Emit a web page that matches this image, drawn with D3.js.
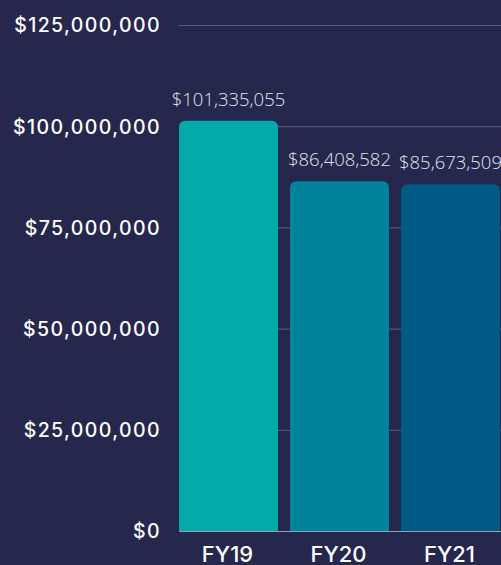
<!DOCTYPE html>
<html lang="en">
<head>
    <meta charset="UTF-8">
    <title>FY Totals</title>
    <script src="https://d3js.org/d3.v7.min.js"></script>
    <style>
        body { margin: 0; background: #25274d; }
        svg { display: block; }
    </style>
</head>
<body>
    <svg width="501" height="565"></svg>
    <script>
        var years = ["FY19", "FY20", "FY21"];
        var totals = [101335055, 86408582, 85673509];
        var tickValues = [0, 25000000, 50000000, 75000000, 100000000, 125000000];
        var barColors = ["#03aaa9", "#02839c", "#015a85"];

        var svg = d3.select("svg");
        var width = +svg.attr("width");
        var height = +svg.attr("height");

        svg.append("rect")
            .attr("width", width)
            .attr("height", height)
            .attr("fill", "#25274d");

        var xScale = d3.scaleBand()
            .domain(years)
            .range([179, 500])
            .paddingInner(0.108)
            .paddingOuter(0);

        var yScale = d3.scaleLinear()
            .domain([0, 125000000])
            .range([531, 25]);

        var money = d3.format("$,");

        // gridlines
        svg.append("g")
            .selectAll("line")
            .data(tickValues)
            .enter()
            .append("line")
            .attr("x1", 179)
            .attr("x2", width)
            .attr("y1", function(d){ return yScale(d) + 0.5; })
            .attr("y2", function(d){ return yScale(d) + 0.5; })
            .attr("stroke", function(d){ return d === 0 ? "#9a9cb4" : "#5d5f80"; })
            .attr("stroke-width", 1);

        // y axis labels
        var yAxis = d3.axisLeft(yScale)
            .tickValues(tickValues)
            .tickFormat(money)
            .tickSize(0)
            .tickPadding(0);
        var ya = svg.append("g")
            .attr("transform", "translate(161,0)")
            .call(yAxis);
        ya.select(".domain").remove();
        ya.selectAll("text")
            .attr("fill", "#ffffff")
            .attr("font-family", "Inter, sans-serif")
            .attr("font-weight", 500)
            .attr("font-size", 19.5)
            .attr("letter-spacing", 1.4)
            .attr("dy", "0.35em");

        // bars with rounded tops
        function barPath(d, i){
            var x0 = xScale(years[i]);
            var w = xScale.bandwidth();
            var y0 = yScale(d);
            var y1 = yScale(0);
            var r = 7;
            return "M" + x0 + "," + y1 +
                "V" + (y0 + r) +
                "Q" + x0 + "," + y0 + " " + (x0 + r) + "," + y0 +
                "H" + (x0 + w - r) +
                "Q" + (x0 + w) + "," + y0 + " " + (x0 + w) + "," + (y0 + r) +
                "V" + y1 + "Z";
        }

        var gs = svg.append("g")
            .selectAll("g")
            .data(totals)
            .enter()
            .append("g");

        gs.append("path")
            .attr("d", barPath)
            .attr("fill", function(d, i){ return barColors[i]; });

        gs.append("text")
            .attr("x", function(d, i){ return xScale(years[i]) + xScale.bandwidth() / 2; })
            .attr("y", function(d){ return yScale(d) - 15; })
            .attr("text-anchor", "middle")
            .attr("fill", "#e2e3ee")
            .attr("font-family", "'Open Sans', sans-serif")
            .attr("font-weight", 300)
            .attr("font-size", 18.5)
            .text(function(d){ return money(d); });

        // x axis labels
        var xAxis = d3.axisBottom(xScale).tickSize(0).tickPadding(0);
        var xa = svg.append("g")
            .attr("transform", "translate(-1,562)")
            .call(xAxis);
        xa.select(".domain").remove();
        xa.selectAll("text")
            .attr("fill", "#ffffff")
            .attr("font-family", "Inter, sans-serif")
            .attr("font-weight", 500)
            .attr("font-size", 22)
            .attr("dy", 0);
    </script>
</body>
</html>
